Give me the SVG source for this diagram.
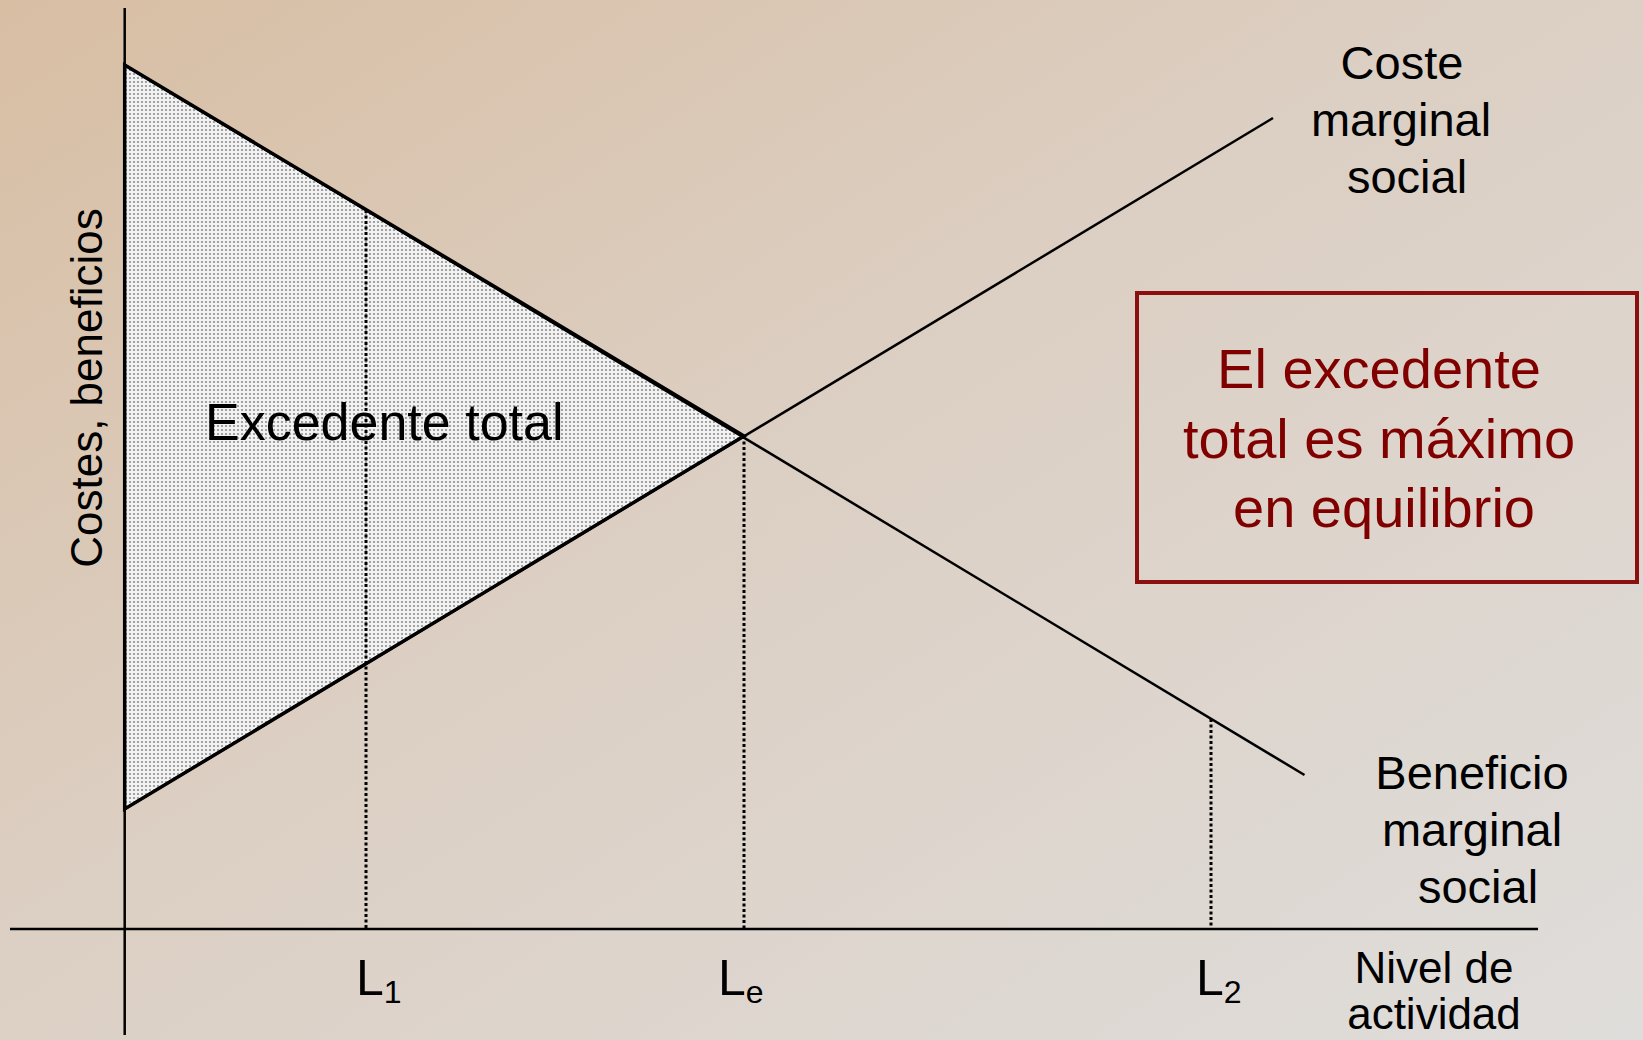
<svg xmlns="http://www.w3.org/2000/svg" width="1643" height="1040" viewBox="0 0 1643 1040">
<defs>
<linearGradient id="bg" x1="0" y1="0" x2="1" y2="1">
<stop offset="0" stop-color="#d8bea3"/>
<stop offset="0.45" stop-color="#dccfc3"/>
<stop offset="1" stop-color="#dfdddb"/>
</linearGradient>
<pattern id="dots" width="4" height="4" patternUnits="userSpaceOnUse">
<rect width="4" height="4" fill="#f2f2f2"/>
<circle cx="2" cy="2" r="1.1" fill="#8f8f8f"/>
</pattern>
<style>
.ax{stroke:#000;stroke-width:2.5;fill:none}
.ln{stroke:#000;stroke-width:2.5;fill:none}
.dot{stroke:#000;stroke-width:3;stroke-dasharray:3 2.5;fill:none}
.t{font-family:"Liberation Sans",Arial,sans-serif;fill:#000}
.r{font-family:"Liberation Sans",Arial,sans-serif;fill:#800000;font-size:56px;text-anchor:middle}
</style>
</defs>
<rect width="1643" height="1040" fill="url(#bg)"/>
<g id="surplus">
<polygon points="124.7,65 744,436 124.7,809" fill="url(#dots)" stroke="#000" stroke-width="3.5" stroke-linejoin="miter"/>
<text class="t" x="205" y="440" font-size="52">Excedente total</text>
</g>
<g id="connectors">
<line class="ax" x1="124.7" y1="8" x2="124.7" y2="1035"/>
<line class="ax" x1="10" y1="929" x2="1538" y2="929"/>
<line class="ln" x1="124.7" y1="65" x2="1304.5" y2="775"/>
<line class="ln" x1="124.7" y1="809" x2="1273" y2="118"/>
<line class="dot" x1="366" y1="210" x2="366" y2="929"/>
<line class="dot" x1="744" y1="436" x2="744" y2="929"/>
<line class="dot" x1="1211" y1="719" x2="1211" y2="929"/>
</g>
<g id="yaxis-label">
<text class="t" font-size="44" text-anchor="middle" transform="translate(102,388) rotate(-90)">Costes, beneficios</text>
</g>
<g id="cost-label">
<text class="t" font-size="47" text-anchor="middle" x="1402" y="79">Coste</text>
<text class="t" font-size="47" text-anchor="middle" x="1401" y="136">marginal</text>
<text class="t" font-size="47" text-anchor="middle" x="1407" y="193">social</text>
</g>
<g id="benefit-label">
<text class="t" font-size="47" text-anchor="middle" x="1472" y="789">Beneficio</text>
<text class="t" font-size="47" text-anchor="middle" x="1472" y="846">marginal</text>
<text class="t" font-size="47" text-anchor="middle" x="1478" y="903">social</text>
</g>
<g id="xaxis-label">
<text class="t" font-size="44" text-anchor="middle" x="1434" y="983">Nivel de</text>
<text class="t" font-size="44" text-anchor="middle" x="1434" y="1029">actividad</text>
</g>
<g id="L1"><text class="t" font-size="50" x="356" y="995">L<tspan font-size="32" dy="8">1</tspan></text></g>
<g id="Le"><text class="t" font-size="50" x="718" y="995">L<tspan font-size="32" dy="8">e</tspan></text></g>
<g id="L2"><text class="t" font-size="50" x="1196" y="995">L<tspan font-size="32" dy="8">2</tspan></text></g>
<g id="note">
<rect x="1137" y="293" width="500" height="289" fill="none" stroke="#8b0f0f" stroke-width="4"/>
<text class="r" x="1379" y="388">El excedente</text>
<text class="r" x="1379" y="458">total es máximo</text>
<text class="r" x="1384" y="527">en equilibrio</text>
</g>
</svg>
